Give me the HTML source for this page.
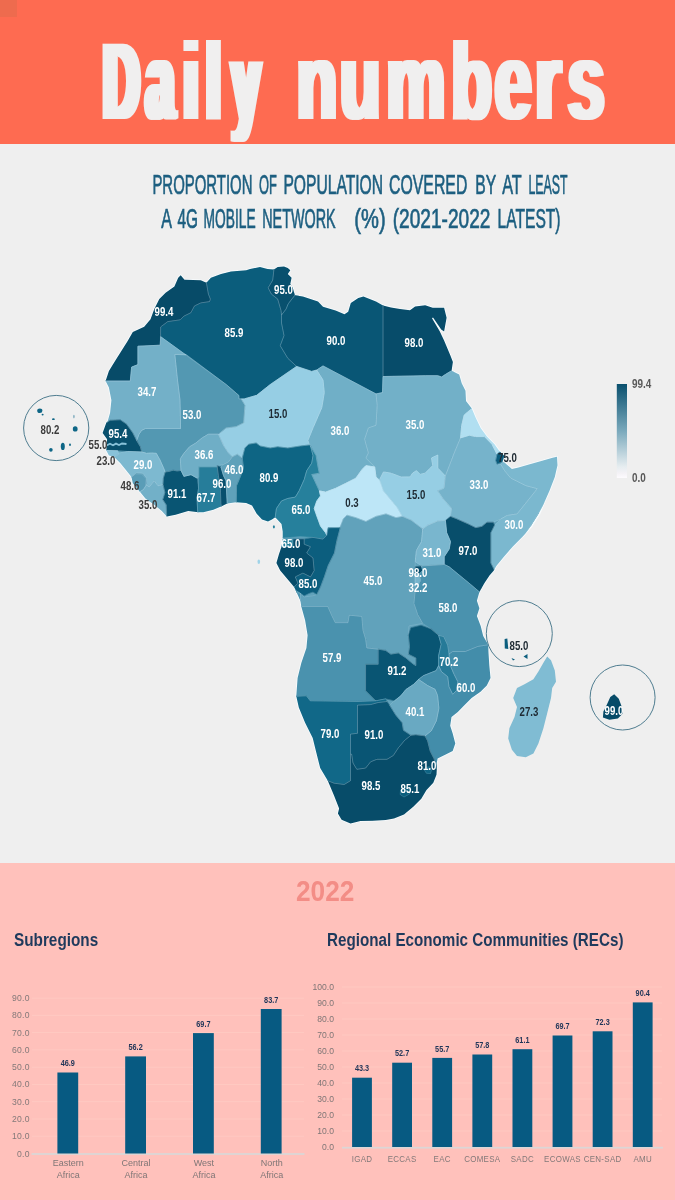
<!DOCTYPE html>
<html lang="en"><head><meta charset="utf-8"><title>Daily numbers</title>
<style>
html,body{margin:0;padding:0}
body{width:675px;height:1200px;position:relative;overflow:hidden;background:#efefef;font-family:"Liberation Sans",sans-serif}
#hdr{position:absolute;left:0;top:0;width:675px;height:144px;background:#fe6b51}
#sq{position:absolute;left:0;top:0;width:17px;height:16.5px;background:#ee6b4e}
#title{position:absolute;left:0;top:0;width:675px;height:144px}
.sub{position:absolute;left:0;width:675px;text-align:center;color:#1d5f80;font-size:26px;line-height:30px;white-space:nowrap}
.sub span{display:inline-block;transform-origin:50% 50%}
#pink{position:absolute;left:0;top:862.5px;width:675px;height:337.5px;background:#ffc1bb}
#y22{position:absolute;left:296px;top:875.5px;color:#f38d86;font-weight:700;font-size:30px;line-height:30px;transform:scaleX(0.875);transform-origin:0 0}
.h2{position:absolute;top:930px;color:#1f3a5c;font-weight:700;font-size:17.6px;line-height:20px;white-space:nowrap;transform-origin:0 0}
</style></head><body>
<div id="hdr"></div><div id="sq"></div>
<svg id="title" viewBox="0 0 675 144"><defs><filter id="dil4" x="-5%" y="-5%" width="110%" height="110%"><feMorphology operator="dilate" radius="4 0"/></filter><filter id="dil2" x="-5%" y="-5%" width="110%" height="110%"><feMorphology operator="dilate" radius="3 0"/></filter></defs><g font-family="'Liberation Sans',sans-serif" font-weight="700" font-size="109" fill="#f0efef"><g filter="url(#dil4)"><text transform="translate(0,119.4) scale(0.4587,1)" x="225.2 318.7 401.3 450.3 505.8">Daily</text></g> <g filter="url(#dil2)"><text transform="translate(0,119.4) scale(0.6055,1)" x="490.0 561.5 638.4 745.5 817.1 884.0 937.8">numbers</text></g></g></svg>
<svg width="675" height="100" viewBox="0 150 675 100" style="position:absolute;left:0;top:150px"><g font-family="'Liberation Sans',sans-serif" font-weight="400" font-size="27.2" fill="#1d5f80" stroke="#1d5f80" stroke-width="0.7"><text y="194.2"><tspan x="152.4" textLength="100.1" lengthAdjust="spacingAndGlyphs">PROPORTION</tspan> <tspan x="259.0" textLength="17.9" lengthAdjust="spacingAndGlyphs">OF</tspan> <tspan x="283.4" textLength="99.6" lengthAdjust="spacingAndGlyphs">POPULATION</tspan> <tspan x="389.1" textLength="78.2" lengthAdjust="spacingAndGlyphs">COVERED</tspan> <tspan x="475.2" textLength="20.6" lengthAdjust="spacingAndGlyphs">BY</tspan> <tspan x="502.2" textLength="19.2" lengthAdjust="spacingAndGlyphs">AT</tspan> <tspan x="528.5" textLength="39.1" lengthAdjust="spacingAndGlyphs">LEAST</tspan></text><text y="227.8"><tspan x="161.2" textLength="9.8" lengthAdjust="spacingAndGlyphs">A</tspan> <tspan x="177.5" textLength="20.5" lengthAdjust="spacingAndGlyphs">4G</tspan> <tspan x="203.6" textLength="52.1" lengthAdjust="spacingAndGlyphs">MOBILE</tspan> <tspan x="262.2" textLength="73.4" lengthAdjust="spacingAndGlyphs">NETWORK</tspan> <tspan x="354.3" textLength="31.3" lengthAdjust="spacingAndGlyphs">(%)</tspan> <tspan x="392.7" textLength="97.7" lengthAdjust="spacingAndGlyphs">(2021-2022</tspan> <tspan x="497.6" textLength="62.9" lengthAdjust="spacingAndGlyphs">LATEST)</tspan></text></g></svg>
<svg width="675" height="720" viewBox="0 144 675 720" style="position:absolute;left:0;top:144px">
<defs><clipPath id="af"><path d="M180.7 275.2 L184.5 279.7 L200.8 280.2 L206.4 282.7 L210.9 277.7 L221.0 273.9 L231.0 271.4 L246.2 270.2 L250.0 268.9 L260.0 267.1 L267.6 268.9 L273.9 269.6 L277.7 267.1 L284.0 266.4 L287.8 268.1 L290.3 270.2 L287.8 273.9 L291.6 277.7 L290.3 284.0 L292.8 287.8 L294.8 295.3 L302.9 296.6 L318.0 301.6 L323.0 306.7 L335.6 310.5 L344.5 314.2 L348.2 311.7 L350.8 302.9 L358.3 297.9 L363.4 296.6 L376.0 301.6 L383.0 305.4 L391.0 307.4 L400.0 309.0 L410.0 310.2 L415.1 306.4 L425.2 305.2 L432.7 307.7 L444.1 307.7 L446.6 317.8 L444.1 331.6 L441.2 329.5 L433.0 317.6 L432.0 318.2 L439.6 331.0 L444.1 340.4 L450.4 355.6 L452.9 361.9 L451.6 370.7 L459.2 374.5 L461.7 383.3 L465.5 390.8 L466.0 400.9 L471.8 408.5 L475.6 417.5 L480.6 428.0 L486.9 436.6 L494.5 444.2 L499.5 451.2 L504.5 456.0 L502.5 461.8 L504.5 462.5 L506.7 464.4 L511.9 468.9 L518.5 467.4 L528.9 464.4 L542.2 460.7 L552.6 457.8 L557.0 456.8 L557.5 465.2 L554.8 477.0 L549.6 490.4 L544.4 502.2 L539.3 514.1 L531.9 525.9 L523.0 536.3 L512.6 546.7 L503.7 557.0 L496.3 565.9 L493.8 570.5 L489.5 575.6 L484.5 583.1 L479.4 591.9 L476.9 600.8 L479.4 608.3 L476.9 615.9 L480.7 625.9 L483.2 636.0 L488.2 644.8 L488.5 652.7 L489.3 665.3 L490.5 677.9 L486.8 685.5 L480.5 691.8 L471.6 698.1 L464.1 705.6 L457.8 711.9 L451.5 717.0 L450.2 725.8 L452.7 733.4 L455.3 743.4 L452.7 751.0 L445.2 754.8 L437.6 758.5 L436.4 764.8 L436.8 769.3 L436.5 774.7 L433.3 782.7 L426.5 790.0 L421.3 798.7 L413.3 806.7 L404.0 814.5 L394.0 818.5 L385.7 820.0 L373.1 820.8 L360.5 821.0 L350.5 823.5 L341.6 819.7 L337.9 813.4 L339.1 808.4 L334.1 795.8 L327.8 780.7 L320.2 768.1 L316.4 753.0 L312.7 737.9 L305.1 722.7 L298.8 707.6 L296.3 696.3 L297.6 678.1 L301.3 663.0 L306.4 647.9 L307.6 635.3 L305.1 620.2 L301.3 606.4 L300.4 600.8 L295.3 589.5 L294.1 587.0 L287.8 579.4 L280.2 570.6 L276.4 563.0 L279.0 554.0 L281.5 546.7 L282.7 539.1 L282.7 531.6 L281.5 524.0 L275.2 517.3 L272.0 519.5 L268.0 521.5 L262.0 519.5 L256.5 513.5 L252.0 505.5 L246.1 502.9 L236.1 502.2 L227.2 503.4 L222.2 506.0 L213.4 509.7 L203.3 512.2 L198.3 512.2 L188.2 511.0 L175.6 514.8 L166.8 516.5 L161.8 511.0 L154.2 504.7 L145.4 498.4 L139.1 490.8 L132.8 483.3 L131.5 477.0 L126.5 470.7 L120.2 463.1 L113.9 456.8 L108.9 455.6 L106.3 450.5 L107.1 439.2 L102.6 432.9 L106.3 422.8 L107.6 421.6 L110.1 412.7 L111.4 400.2 L108.9 387.6 L105.6 381.0 L108.9 370.9 L115.2 360.8 L121.5 350.8 L127.8 340.7 L132.8 331.9 L144.2 326.8 L150.5 319.3 L154.2 309.2 L159.3 299.1 L165.6 292.8 L174.4 286.5 L178.2 277.7Z"/></clipPath><linearGradient id="lg" x1="0" y1="0" x2="0" y2="1"><stop offset="0" stop-color="#0a506e"/><stop offset="0.5" stop-color="#7aa9bc"/><stop offset="0.88" stop-color="#e6edf0"/><stop offset="0.95" stop-color="#f4f2f6"/><stop offset="1" stop-color="#fdfbfe"/></linearGradient></defs>
<path d="M180.7 275.2 L184.5 279.7 L200.8 280.2 L206.4 282.7 L210.9 277.7 L221.0 273.9 L231.0 271.4 L246.2 270.2 L250.0 268.9 L260.0 267.1 L267.6 268.9 L273.9 269.6 L277.7 267.1 L284.0 266.4 L287.8 268.1 L290.3 270.2 L287.8 273.9 L291.6 277.7 L290.3 284.0 L292.8 287.8 L294.8 295.3 L302.9 296.6 L318.0 301.6 L323.0 306.7 L335.6 310.5 L344.5 314.2 L348.2 311.7 L350.8 302.9 L358.3 297.9 L363.4 296.6 L376.0 301.6 L383.0 305.4 L391.0 307.4 L400.0 309.0 L410.0 310.2 L415.1 306.4 L425.2 305.2 L432.7 307.7 L444.1 307.7 L446.6 317.8 L444.1 331.6 L441.2 329.5 L433.0 317.6 L432.0 318.2 L439.6 331.0 L444.1 340.4 L450.4 355.6 L452.9 361.9 L451.6 370.7 L459.2 374.5 L461.7 383.3 L465.5 390.8 L466.0 400.9 L471.8 408.5 L475.6 417.5 L480.6 428.0 L486.9 436.6 L494.5 444.2 L499.5 451.2 L504.5 456.0 L502.5 461.8 L504.5 462.5 L506.7 464.4 L511.9 468.9 L518.5 467.4 L528.9 464.4 L542.2 460.7 L552.6 457.8 L557.0 456.8 L557.5 465.2 L554.8 477.0 L549.6 490.4 L544.4 502.2 L539.3 514.1 L531.9 525.9 L523.0 536.3 L512.6 546.7 L503.7 557.0 L496.3 565.9 L493.8 570.5 L489.5 575.6 L484.5 583.1 L479.4 591.9 L476.9 600.8 L479.4 608.3 L476.9 615.9 L480.7 625.9 L483.2 636.0 L488.2 644.8 L488.5 652.7 L489.3 665.3 L490.5 677.9 L486.8 685.5 L480.5 691.8 L471.6 698.1 L464.1 705.6 L457.8 711.9 L451.5 717.0 L450.2 725.8 L452.7 733.4 L455.3 743.4 L452.7 751.0 L445.2 754.8 L437.6 758.5 L436.4 764.8 L436.8 769.3 L436.5 774.7 L433.3 782.7 L426.5 790.0 L421.3 798.7 L413.3 806.7 L404.0 814.5 L394.0 818.5 L385.7 820.0 L373.1 820.8 L360.5 821.0 L350.5 823.5 L341.6 819.7 L337.9 813.4 L339.1 808.4 L334.1 795.8 L327.8 780.7 L320.2 768.1 L316.4 753.0 L312.7 737.9 L305.1 722.7 L298.8 707.6 L296.3 696.3 L297.6 678.1 L301.3 663.0 L306.4 647.9 L307.6 635.3 L305.1 620.2 L301.3 606.4 L300.4 600.8 L295.3 589.5 L294.1 587.0 L287.8 579.4 L280.2 570.6 L276.4 563.0 L279.0 554.0 L281.5 546.7 L282.7 539.1 L282.7 531.6 L281.5 524.0 L275.2 517.3 L272.0 519.5 L268.0 521.5 L262.0 519.5 L256.5 513.5 L252.0 505.5 L246.1 502.9 L236.1 502.2 L227.2 503.4 L222.2 506.0 L213.4 509.7 L203.3 512.2 L198.3 512.2 L188.2 511.0 L175.6 514.8 L166.8 516.5 L161.8 511.0 L154.2 504.7 L145.4 498.4 L139.1 490.8 L132.8 483.3 L131.5 477.0 L126.5 470.7 L120.2 463.1 L113.9 456.8 L108.9 455.6 L106.3 450.5 L107.1 439.2 L102.6 432.9 L106.3 422.8 L107.6 421.6 L110.1 412.7 L111.4 400.2 L108.9 387.6 L105.6 381.0 L108.9 370.9 L115.2 360.8 L121.5 350.8 L127.8 340.7 L132.8 331.9 L144.2 326.8 L150.5 319.3 L154.2 309.2 L159.3 299.1 L165.6 292.8 L174.4 286.5 L178.2 277.7Z" fill="#61a2bb" stroke="#f8fcfe" stroke-width="1.6" stroke-linejoin="round"/>
<g clip-path="url(#af)" stroke-linejoin="round">
<path d="M206.4 282.7 L206.0 255.0 L274.0 255.0 L273.9 269.6 L272.7 280.2 L268.1 287.8 L271.4 294.1 L277.7 299.1 L281.0 310.5 L281.5 315.0 L281.5 323.0 L284.0 335.6 L280.2 345.7 L287.8 358.3 L296.6 366.4 L270.0 384.7 L256.7 395.3 L244.2 398.9 L238.9 398.9 L238.9 395.5 L236.0 393.0 L226.4 384.7 L160.7 336.7 L160.7 326.9 L167.8 321.6 L180.2 319.8 L183.8 316.2 L190.9 312.7 L194.5 305.9 L200.8 302.9 L209.6 301.6 L210.4 299.1 L208.4 294.1Z" fill="#0b5d7c" stroke="#0b5d7c" stroke-width="0.7"/>
<path d="M206.4 282.7 L208.4 294.1 L210.4 299.1 L209.6 301.6 L200.8 302.9 L194.5 305.9 L190.9 312.7 L183.8 316.2 L180.2 319.8 L167.8 321.6 L160.7 326.9 L160.2 345.2 L137.9 346.2 L137.9 364.6 L131.6 367.1 L130.3 381.0 L95.0 381.0 L95.0 265.0 L206.0 265.0Z" fill="#074b68" stroke="#074b68" stroke-width="0.7"/>
<path d="M273.9 269.6 L274.0 258.0 L300.0 258.0 L300.0 295.3 L294.8 295.3 L288.2 303.8 L286.1 309.0 L281.5 315.0 L281.0 310.5 L277.7 299.1 L271.4 294.1 L268.1 287.8 L272.7 280.2Z" fill="#08506e" stroke="#08506e" stroke-width="0.7"/>
<path d="M294.8 295.3 L294.8 285.0 L383.0 285.0 L383.0 376.5 L382.5 392.6 L376.0 393.9 L323.0 365.9 L316.7 370.0 L311.7 371.4 L296.6 366.4 L287.8 358.3 L280.2 345.7 L284.0 335.6 L281.5 323.0 L281.5 315.0 L286.1 309.0 L288.2 303.8Z" fill="#095675" stroke="#095675" stroke-width="0.7"/>
<path d="M383.0 295.0 L460.0 295.0 L460.0 370.7 L451.6 370.7 L445.3 374.5 L441.6 377.0 L437.8 375.7 L425.2 375.7 L400.0 376.2 L383.0 376.5Z" fill="#074c6a" stroke="#074c6a" stroke-width="0.7"/>
<path d="M383.0 376.5 L400.0 376.2 L425.2 375.7 L437.8 375.7 L441.6 377.0 L445.3 374.5 L451.6 370.7 L475.0 372.0 L475.0 408.5 L471.8 408.5 L464.2 415.0 L461.7 425.3 L460.5 437.9 L454.2 453.0 L450.4 463.0 L445.3 476.0 L437.8 468.1 L437.8 463.0 L437.8 455.0 L431.5 458.0 L432.7 465.6 L430.2 468.1 L425.2 473.1 L420.2 474.4 L416.4 470.6 L412.6 473.1 L410.1 476.9 L401.1 477.0 L391.1 473.2 L383.5 471.9 L379.7 479.5 L376.0 477.0 L374.7 466.9 L365.9 458.1 L368.4 453.0 L364.6 439.2 L368.4 427.9 L376.0 425.3 L377.2 405.2 L376.0 393.9 L382.5 392.6Z" fill="#72b0c8" stroke="#72b0c8" stroke-width="0.7"/>
<path d="M323.0 365.9 L376.0 393.9 L377.2 405.2 L376.0 425.3 L368.4 427.9 L364.6 439.2 L368.4 453.0 L365.9 458.1 L374.7 466.9 L365.9 465.6 L362.1 469.4 L355.8 478.2 L345.7 483.3 L335.6 488.3 L325.6 492.1 L319.3 490.8 L311.7 474.5 L319.3 473.2 L318.0 467.0 L316.0 455.6 L310.5 446.0 L307.9 440.5 L313.0 427.9 L321.8 407.7 L324.3 392.6 L323.0 380.0 L316.7 370.0Z" fill="#70afc7" stroke="#70afc7" stroke-width="0.7"/>
<path d="M296.6 366.4 L311.7 371.4 L316.7 370.0 L323.0 380.0 L324.3 392.6 L321.8 407.7 L313.0 427.9 L307.9 440.5 L309.2 445.0 L300.4 446.0 L287.8 448.0 L277.7 446.8 L270.2 448.0 L260.1 446.0 L256.2 443.0 L248.7 444.2 L244.9 448.0 L242.3 458.1 L237.3 454.3 L232.3 456.8 L228.5 453.0 L223.5 445.5 L218.4 434.2 L226.0 427.9 L236.1 426.6 L243.6 422.8 L244.9 405.2 L241.1 398.9 L244.2 398.9 L256.7 395.3 L270.0 384.7Z" fill="#96cee4" stroke="#96cee4" stroke-width="0.7"/>
<path d="M174.8 354.4 L185.9 354.4 L226.4 384.7 L236.0 393.0 L238.9 395.5 L238.9 398.9 L241.1 398.9 L244.9 405.2 L243.6 422.8 L236.1 426.6 L226.0 427.9 L218.4 434.2 L208.3 434.2 L202.1 437.9 L195.8 443.0 L189.5 446.8 L183.9 453.3 L180.3 458.7 L181.0 470.5 L177.0 471.0 L173.2 470.2 L169.0 471.5 L165.2 472.0 L163.4 467.6 L160.0 460.0 L156.3 453.3 L151.7 453.0 L146.6 453.3 L141.6 451.8 L140.3 446.8 L136.6 440.5 L139.1 434.2 L141.6 430.4 L145.4 428.6 L180.6 428.6 L180.0 400.0 L177.5 380.0Z" fill="#5398b2" stroke="#5398b2" stroke-width="0.7"/>
<path d="M160.7 336.7 L185.9 354.9 L174.8 354.4 L177.5 380.0 L180.0 400.0 L180.6 428.6 L145.4 428.6 L141.6 430.4 L139.1 434.2 L136.6 440.5 L132.8 432.9 L126.5 424.1 L120.2 419.8 L110.1 420.3 L106.3 422.8 L95.0 422.0 L95.0 381.0 L130.3 381.0 L131.6 367.1 L137.9 364.6 L137.9 346.2 L160.2 345.2Z" fill="#73b0c8" stroke="#73b0c8" stroke-width="0.7"/>
<path d="M100.0 422.8 L106.3 422.8 L110.1 420.3 L120.2 419.8 L126.5 424.1 L132.8 432.9 L136.6 440.5 L140.3 446.8 L141.6 451.8 L127.7 451.3 L117.7 450.5 L100.0 450.0Z" fill="#08506d" stroke="#08506d" stroke-width="0.7"/>
<path d="M100.0 450.3 L117.7 450.8 L118.9 454.3 L113.9 457.5 L100.0 458.0Z" fill="#88c2d9" stroke="#88c2d9" stroke-width="0.7"/>
<path d="M118.9 453.0 L127.7 451.5 L141.6 452.0 L146.6 453.3 L151.7 453.0 L156.3 453.3 L160.0 460.0 L163.4 467.6 L165.2 472.0 L163.4 478.2 L163.0 484.5 L158.0 485.8 L154.2 480.8 L149.2 487.0 L145.4 484.5 L146.6 478.2 L142.9 473.2 L136.6 472.7 L131.5 477.0 L120.0 475.0 L105.0 457.0 L113.9 456.8Z" fill="#7db9d0" stroke="#7db9d0" stroke-width="0.7"/>
<path d="M131.5 477.0 L135.5 474.0 L141.5 474.0 L146.0 478.5 L146.6 484.5 L143.5 489.5 L139.5 492.0 L128.0 493.0 L125.0 477.0Z" fill="#5a9db7" stroke="#5a9db7" stroke-width="0.7"/>
<path d="M139.5 492.0 L143.5 489.5 L146.6 484.5 L149.2 487.0 L154.2 480.8 L158.0 485.8 L163.0 484.5 L165.0 492.4 L162.8 499.6 L166.3 505.0 L166.8 516.5 L160.0 522.0 L135.0 495.0Z" fill="#72b0c8" stroke="#72b0c8" stroke-width="0.7"/>
<path d="M165.2 472.0 L169.0 471.5 L173.2 470.2 L177.0 471.0 L181.0 470.5 L183.9 476.4 L191.0 474.7 L197.2 478.2 L198.5 488.3 L197.0 498.4 L197.5 508.5 L198.3 520.0 L166.8 522.0 L166.3 505.0 L162.8 499.6 L165.0 492.4 L163.0 484.5 L163.4 478.2Z" fill="#095573" stroke="#095573" stroke-width="0.7"/>
<path d="M218.4 434.2 L223.5 445.5 L228.5 453.0 L232.3 456.8 L228.5 461.9 L223.5 464.4 L217.2 465.6 L217.2 466.9 L198.8 466.9 L198.8 477.0 L197.2 478.2 L191.0 474.7 L183.9 476.4 L181.0 470.5 L180.3 458.7 L183.9 453.3 L189.5 446.8 L195.8 443.0 L202.1 437.9 L208.3 434.2Z" fill="#6faec6" stroke="#6faec6" stroke-width="0.7"/>
<path d="M198.8 466.9 L217.2 466.9 L218.4 475.7 L220.4 488.3 L220.9 503.4 L222.2 515.0 L198.3 518.0 L197.5 508.5 L197.0 498.4 L198.5 488.3 L198.8 477.0Z" fill="#267d9a" stroke="#267d9a" stroke-width="0.7"/>
<path d="M217.2 465.6 L220.9 466.9 L223.5 475.7 L226.0 480.8 L227.2 503.4 L227.2 512.0 L222.2 512.0 L220.9 503.4 L220.4 488.3 L218.4 475.7Z" fill="#084f6d" stroke="#084f6d" stroke-width="0.7"/>
<path d="M227.2 503.4 L226.0 480.8 L223.5 475.7 L220.9 466.9 L223.5 464.4 L228.5 461.9 L232.3 456.8 L237.3 454.3 L242.3 458.1 L243.6 468.2 L239.8 478.2 L236.6 485.8 L236.1 510.0 L227.2 510.0Z" fill="#5fa1ba" stroke="#5fa1ba" stroke-width="0.7"/>
<path d="M242.3 458.1 L244.9 448.0 L248.7 444.2 L256.2 443.0 L260.1 446.0 L270.2 448.0 L277.7 446.8 L287.8 448.0 L300.4 446.0 L309.2 445.0 L310.5 446.0 L313.0 455.6 L311.7 463.1 L306.7 470.7 L304.2 479.5 L299.1 490.8 L295.3 497.1 L287.8 498.4 L281.5 500.9 L276.4 508.5 L275.2 517.3 L275.0 530.0 L236.1 530.0 L236.6 485.8 L239.8 478.2 L243.6 468.2Z" fill="#0e6584" stroke="#0e6584" stroke-width="0.7"/>
<path d="M310.5 446.0 L316.0 455.6 L318.0 467.0 L319.3 473.2 L311.7 474.5 L319.3 490.8 L320.5 495.9 L316.8 500.9 L314.2 508.5 L316.8 516.0 L320.5 526.1 L325.6 532.8 L326.8 535.3 L323.0 539.1 L313.0 537.4 L300.4 536.6 L282.7 538.0 L270.0 538.0 L275.2 517.3 L276.4 508.5 L281.5 500.9 L287.8 498.4 L295.3 497.1 L299.1 490.8 L304.2 479.5 L306.7 470.7 L311.7 463.1 L313.0 455.6Z" fill="#26809c" stroke="#26809c" stroke-width="0.7"/>
<path d="M319.3 490.8 L325.6 492.1 L335.6 488.3 L345.7 483.3 L355.8 478.2 L362.1 469.4 L365.9 465.6 L374.7 466.9 L376.0 477.0 L379.7 480.5 L383.5 490.8 L391.1 500.0 L397.4 507.6 L402.4 516.4 L396.1 517.7 L386.0 513.9 L376.0 516.4 L365.9 521.5 L355.8 517.7 L347.0 515.2 L343.2 519.0 L339.4 527.3 L328.1 527.8 L326.8 535.3 L325.6 532.8 L320.5 526.1 L316.8 516.0 L314.2 508.5 L316.8 500.9 L320.5 495.9Z" fill="#bde6f7" stroke="#bde6f7" stroke-width="0.7"/>
<path d="M379.7 479.5 L383.5 471.9 L391.1 473.2 L401.1 477.0 L410.1 476.9 L412.6 473.1 L416.4 470.6 L420.2 474.4 L425.2 473.1 L430.2 468.1 L432.7 465.6 L431.5 458.0 L437.8 455.0 L437.8 463.0 L437.8 468.1 L445.3 476.0 L444.1 488.2 L437.8 490.8 L442.8 498.3 L451.6 508.4 L450.4 515.9 L445.4 520.5 L437.8 521.0 L427.8 525.2 L422.7 529.0 L417.7 525.2 L411.2 520.2 L402.4 516.4 L397.4 507.6 L391.1 500.0 L383.5 490.8Z" fill="#96cee4" stroke="#96cee4" stroke-width="0.7"/>
<path d="M460.5 437.9 L469.3 435.3 L475.6 436.6 L484.4 436.6 L491.9 444.2 L497.0 454.2 L495.7 460.5 L497.0 464.3 L500.8 464.3 L504.5 470.6 L510.8 478.2 L525.9 485.7 L537.3 488.7 L517.1 513.9 L507.1 515.4 L500.8 519.0 L493.3 522.2 L487.0 522.2 L481.9 526.4 L475.7 527.7 L468.1 523.9 L456.8 518.9 L450.5 516.4 L451.6 508.4 L442.8 498.3 L437.8 490.8 L444.1 488.2 L445.3 476.0 L450.4 463.0 L454.2 453.0Z" fill="#76b3cb" stroke="#76b3cb" stroke-width="0.7"/>
<path d="M471.8 408.5 L480.0 405.0 L505.0 450.0 L499.5 451.7 L497.0 454.2 L491.9 444.2 L484.4 436.6 L475.6 436.6 L469.3 435.3 L460.5 437.9 L461.7 425.3 L464.2 415.0Z" fill="#b1dff1" stroke="#b1dff1" stroke-width="0.7"/>
<path d="M500.8 464.3 L502.5 461.8 L504.5 461.0 L560.0 450.0 L565.0 470.0 L500.0 575.0 L494.5 570.5 L490.8 563.0 L490.8 532.7 L494.5 525.2 L500.8 519.0 L507.1 515.4 L517.1 513.9 L537.3 488.7 L525.9 485.7 L510.8 478.2 L504.5 470.6Z" fill="#7bb8cf" stroke="#7bb8cf" stroke-width="0.7"/>
<path d="M497.0 454.2 L500.8 451.2 L504.5 456.0 L502.5 461.8 L497.0 464.3 L495.7 460.5Z" fill="#0b5c7c" stroke="#0b5c7c" stroke-width="0.7"/>
<path d="M445.4 520.5 L450.5 516.4 L456.8 518.9 L468.1 523.9 L475.7 527.7 L481.9 526.4 L487.0 522.2 L493.3 522.2 L494.5 525.2 L490.8 532.7 L490.8 563.0 L494.5 570.5 L489.0 580.0 L479.4 591.9 L470.6 584.4 L449.2 566.8 L444.2 564.2 L444.2 556.7 L449.2 549.1 L450.5 541.6 L446.7 532.7Z" fill="#084e6b" stroke="#084e6b" stroke-width="0.7"/>
<path d="M340.2 527.8 L343.2 519.0 L347.0 515.2 L355.8 517.7 L365.9 521.5 L376.0 516.4 L386.0 513.9 L396.1 517.7 L402.4 516.4 L411.2 520.2 L417.7 525.2 L422.7 529.0 L421.5 541.6 L416.4 550.4 L415.2 561.7 L415.2 590.7 L413.9 603.3 L417.7 614.6 L422.7 623.4 L408.9 625.9 L408.4 635.3 L409.6 646.7 L408.4 654.2 L415.9 658.0 L415.9 665.6 L413.4 664.3 L405.9 658.0 L398.3 653.0 L390.8 654.2 L385.7 650.5 L378.2 649.2 L366.8 647.9 L365.6 639.1 L363.0 630.3 L361.8 616.4 L349.2 615.2 L347.9 622.7 L335.3 622.7 L331.6 615.2 L327.8 606.4 L301.3 606.4 L295.0 606.4 L295.0 600.8 L300.4 600.8 L300.4 593.3 L304.2 597.0 L313.0 595.8 L316.8 594.5 L320.5 587.0 L324.3 576.9 L328.1 565.6 L334.4 553.0 L336.9 540.4Z" fill="#61a2bb" stroke="#61a2bb" stroke-width="0.7"/>
<path d="M422.7 529.0 L427.8 525.2 L437.8 521.0 L445.4 520.5 L446.7 532.7 L450.5 541.6 L449.2 549.1 L444.2 556.7 L444.2 564.5 L421.5 566.0 L420.2 565.0 L415.2 561.7 L416.4 550.4 L421.5 541.6Z" fill="#79b6ce" stroke="#79b6ce" stroke-width="0.7"/>
<path d="M415.2 566.8 L421.5 566.0 L422.7 570.5 L419.0 574.3 L415.2 573.0Z" fill="#074c6a" stroke="#074c6a" stroke-width="0.7"/>
<path d="M415.2 574.3 L419.0 574.3 L420.7 580.6 L417.7 585.6 L415.2 583.1Z" fill="#77b4cc" stroke="#77b4cc" stroke-width="0.7"/>
<path d="M421.5 566.0 L444.2 564.5 L449.2 566.8 L470.6 584.4 L479.4 591.9 L495.0 592.0 L495.0 644.8 L488.2 644.8 L477.9 646.4 L465.3 651.5 L452.7 651.5 L449.0 654.0 L447.7 645.2 L443.7 636.6 L438.6 635.3 L431.1 629.0 L422.7 623.4 L417.7 614.6 L413.9 603.3 L415.2 590.7 L417.7 585.6 L420.7 580.6 L419.0 574.3 L422.7 570.5Z" fill="#4a92ae" stroke="#4a92ae" stroke-width="0.7"/>
<path d="M304.2 539.1 L313.0 537.4 L323.0 539.1 L326.8 535.3 L328.1 527.8 L340.2 527.8 L336.9 540.4 L334.4 553.0 L328.1 565.6 L324.3 576.9 L320.5 587.0 L316.8 594.5 L313.0 592.0 L309.2 593.3 L304.2 595.8 L300.4 593.3 L292.0 592.0 L294.1 587.0 L297.9 583.2 L295.3 576.9 L302.9 573.1 L310.5 576.9 L314.2 570.6 L313.0 558.0 L306.7 553.0 L310.5 546.7 L304.2 544.2Z" fill="#0c5e7e" stroke="#0c5e7e" stroke-width="0.7"/>
<path d="M281.5 546.7 L292.8 546.7 L292.8 539.1 L304.2 539.1 L304.2 544.2 L310.5 546.7 L306.7 553.0 L313.0 558.0 L314.2 570.6 L310.5 576.9 L302.9 573.1 L295.3 576.9 L297.9 583.2 L294.1 587.0 L285.0 590.0 L270.0 565.0Z" fill="#074c6a" stroke="#074c6a" stroke-width="0.7"/>
<path d="M278.0 539.1 L292.8 539.1 L292.8 546.7 L278.0 546.7Z" fill="#26809c" stroke="#26809c" stroke-width="0.7"/>
<path d="M295.0 606.4 L327.8 606.4 L331.6 615.2 L335.3 622.7 L347.9 622.7 L349.2 615.2 L361.8 616.4 L363.0 630.3 L365.6 639.1 L366.8 647.9 L378.2 649.2 L378.2 664.3 L365.6 664.3 L365.6 690.8 L375.6 700.8 L358.0 701.5 L310.2 700.8 L306.4 695.8 L296.3 696.3 L290.0 696.0 L290.0 606.0Z" fill="#4a92ae" stroke="#4a92ae" stroke-width="0.7"/>
<path d="M294.0 589.5 L300.4 593.3 L300.4 600.8 L294.0 600.8Z" fill="#4a92ae" stroke="#4a92ae" stroke-width="0.7"/>
<path d="M365.6 664.3 L378.2 664.3 L378.2 649.2 L385.7 650.5 L390.8 654.2 L398.3 653.0 L405.9 658.0 L413.4 664.3 L415.9 665.6 L415.9 658.0 L408.4 654.2 L409.6 646.7 L408.4 635.3 L410.9 627.8 L421.0 625.3 L431.1 629.0 L438.6 635.3 L441.1 644.2 L438.6 655.5 L438.6 665.6 L436.1 670.6 L423.5 675.6 L418.5 679.4 L413.4 684.5 L405.9 689.5 L400.8 695.8 L394.5 700.8 L385.7 698.8 L375.6 700.8 L365.6 690.8Z" fill="#095573" stroke="#095573" stroke-width="0.7"/>
<path d="M438.6 635.3 L443.7 636.6 L447.7 645.2 L449.0 654.0 L450.2 665.3 L454.0 674.2 L457.8 681.7 L456.5 690.5 L452.7 694.3 L449.0 686.8 L447.7 676.7 L441.4 671.6 L438.6 665.6 L438.6 655.5 L441.1 644.2Z" fill="#267a98" stroke="#267a98" stroke-width="0.7"/>
<path d="M449.0 654.0 L452.7 651.5 L465.3 651.5 L477.9 646.4 L488.2 644.8 L500.0 644.0 L500.0 700.0 L460.0 770.0 L436.4 768.0 L433.9 758.5 L430.1 751.0 L427.6 740.9 L425.0 735.9 L431.3 730.8 L436.4 720.8 L438.9 708.2 L437.6 695.6 L435.1 689.3 L427.6 685.5 L418.5 679.4 L423.5 675.6 L436.1 670.6 L438.6 665.6 L441.4 671.6 L447.7 676.7 L449.0 686.8 L452.7 694.3 L456.5 690.5 L457.8 681.7 L454.0 674.2 L450.2 665.3Z" fill="#438daa" stroke="#438daa" stroke-width="0.7"/>
<path d="M394.5 700.8 L400.8 695.8 L405.9 689.5 L413.4 684.5 L418.5 679.4 L427.6 685.5 L435.1 689.3 L437.6 695.6 L438.9 708.2 L436.4 720.8 L431.3 730.8 L425.0 735.9 L415.9 734.8 L410.9 735.3 L403.4 730.3 L402.1 722.7 L395.8 715.2 L389.5 705.1Z" fill="#69a9c2" stroke="#69a9c2" stroke-width="0.7"/>
<path d="M290.0 696.0 L296.3 696.3 L306.4 695.8 L310.2 700.8 L358.0 701.5 L375.6 700.8 L385.7 698.8 L387.0 701.5 L378.2 702.5 L370.6 704.6 L357.5 705.1 L357.5 733.3 L350.5 734.1 L350.5 780.7 L344.2 784.5 L334.1 783.2 L327.8 780.7 L300.0 780.0Z" fill="#116888" stroke="#116888" stroke-width="0.7"/>
<path d="M357.5 705.1 L370.6 704.6 L378.2 702.5 L387.0 701.5 L389.5 705.1 L395.8 715.2 L402.1 722.7 L403.4 730.3 L410.9 735.3 L404.6 740.4 L398.3 747.9 L393.3 755.5 L387.0 759.3 L376.9 759.3 L370.6 761.8 L365.6 768.1 L356.8 769.3 L353.0 763.0 L351.7 754.2 L350.5 754.2 L350.5 734.1 L357.5 733.3Z" fill="#095574" stroke="#095574" stroke-width="0.7"/>
<path d="M327.8 780.7 L334.1 783.2 L344.2 784.5 L350.5 780.7 L350.5 754.2 L351.7 754.2 L353.0 763.0 L356.8 769.3 L365.6 768.1 L370.6 761.8 L376.9 759.3 L387.0 759.3 L393.3 755.5 L398.3 747.9 L404.6 740.4 L410.9 735.3 L415.9 734.8 L425.0 735.9 L427.6 740.9 L430.1 751.0 L433.9 758.5 L436.4 764.8 L445.0 768.0 L445.0 830.0 L320.0 830.0Z" fill="#074c69" stroke="#074c69" stroke-width="0.7"/>
<path d="M425.5 767.5 L429.5 766.8 L431.5 770.0 L430.5 773.5 L426.5 773.3 L424.7 770.5Z" fill="#0e6484" stroke="#0e6484" stroke-width="0.7"/>
<path d="M400.5 790.5 L405.0 787.5 L410.0 790.0 L409.5 794.0 L404.0 797.0 L400.2 794.5Z" fill="#0b5e7d" stroke="#0b5e7d" stroke-width="0.7"/>
</g>
<g clip-path="url(#af)" fill="none" stroke="#cfe8f2" stroke-opacity="0.35" stroke-width="0.5" stroke-linejoin="round">
<path d="M206.4 282.7 L206.0 255.0 L274.0 255.0 L273.9 269.6 L272.7 280.2 L268.1 287.8 L271.4 294.1 L277.7 299.1 L281.0 310.5 L281.5 315.0 L281.5 323.0 L284.0 335.6 L280.2 345.7 L287.8 358.3 L296.6 366.4 L270.0 384.7 L256.7 395.3 L244.2 398.9 L238.9 398.9 L238.9 395.5 L236.0 393.0 L226.4 384.7 L160.7 336.7 L160.7 326.9 L167.8 321.6 L180.2 319.8 L183.8 316.2 L190.9 312.7 L194.5 305.9 L200.8 302.9 L209.6 301.6 L210.4 299.1 L208.4 294.1Z"/>
<path d="M206.4 282.7 L208.4 294.1 L210.4 299.1 L209.6 301.6 L200.8 302.9 L194.5 305.9 L190.9 312.7 L183.8 316.2 L180.2 319.8 L167.8 321.6 L160.7 326.9 L160.2 345.2 L137.9 346.2 L137.9 364.6 L131.6 367.1 L130.3 381.0 L95.0 381.0 L95.0 265.0 L206.0 265.0Z"/>
<path d="M273.9 269.6 L274.0 258.0 L300.0 258.0 L300.0 295.3 L294.8 295.3 L288.2 303.8 L286.1 309.0 L281.5 315.0 L281.0 310.5 L277.7 299.1 L271.4 294.1 L268.1 287.8 L272.7 280.2Z"/>
<path d="M294.8 295.3 L294.8 285.0 L383.0 285.0 L383.0 376.5 L382.5 392.6 L376.0 393.9 L323.0 365.9 L316.7 370.0 L311.7 371.4 L296.6 366.4 L287.8 358.3 L280.2 345.7 L284.0 335.6 L281.5 323.0 L281.5 315.0 L286.1 309.0 L288.2 303.8Z"/>
<path d="M383.0 295.0 L460.0 295.0 L460.0 370.7 L451.6 370.7 L445.3 374.5 L441.6 377.0 L437.8 375.7 L425.2 375.7 L400.0 376.2 L383.0 376.5Z"/>
<path d="M383.0 376.5 L400.0 376.2 L425.2 375.7 L437.8 375.7 L441.6 377.0 L445.3 374.5 L451.6 370.7 L475.0 372.0 L475.0 408.5 L471.8 408.5 L464.2 415.0 L461.7 425.3 L460.5 437.9 L454.2 453.0 L450.4 463.0 L445.3 476.0 L437.8 468.1 L437.8 463.0 L437.8 455.0 L431.5 458.0 L432.7 465.6 L430.2 468.1 L425.2 473.1 L420.2 474.4 L416.4 470.6 L412.6 473.1 L410.1 476.9 L401.1 477.0 L391.1 473.2 L383.5 471.9 L379.7 479.5 L376.0 477.0 L374.7 466.9 L365.9 458.1 L368.4 453.0 L364.6 439.2 L368.4 427.9 L376.0 425.3 L377.2 405.2 L376.0 393.9 L382.5 392.6Z"/>
<path d="M323.0 365.9 L376.0 393.9 L377.2 405.2 L376.0 425.3 L368.4 427.9 L364.6 439.2 L368.4 453.0 L365.9 458.1 L374.7 466.9 L365.9 465.6 L362.1 469.4 L355.8 478.2 L345.7 483.3 L335.6 488.3 L325.6 492.1 L319.3 490.8 L311.7 474.5 L319.3 473.2 L318.0 467.0 L316.0 455.6 L310.5 446.0 L307.9 440.5 L313.0 427.9 L321.8 407.7 L324.3 392.6 L323.0 380.0 L316.7 370.0Z"/>
<path d="M296.6 366.4 L311.7 371.4 L316.7 370.0 L323.0 380.0 L324.3 392.6 L321.8 407.7 L313.0 427.9 L307.9 440.5 L309.2 445.0 L300.4 446.0 L287.8 448.0 L277.7 446.8 L270.2 448.0 L260.1 446.0 L256.2 443.0 L248.7 444.2 L244.9 448.0 L242.3 458.1 L237.3 454.3 L232.3 456.8 L228.5 453.0 L223.5 445.5 L218.4 434.2 L226.0 427.9 L236.1 426.6 L243.6 422.8 L244.9 405.2 L241.1 398.9 L244.2 398.9 L256.7 395.3 L270.0 384.7Z"/>
<path d="M174.8 354.4 L185.9 354.4 L226.4 384.7 L236.0 393.0 L238.9 395.5 L238.9 398.9 L241.1 398.9 L244.9 405.2 L243.6 422.8 L236.1 426.6 L226.0 427.9 L218.4 434.2 L208.3 434.2 L202.1 437.9 L195.8 443.0 L189.5 446.8 L183.9 453.3 L180.3 458.7 L181.0 470.5 L177.0 471.0 L173.2 470.2 L169.0 471.5 L165.2 472.0 L163.4 467.6 L160.0 460.0 L156.3 453.3 L151.7 453.0 L146.6 453.3 L141.6 451.8 L140.3 446.8 L136.6 440.5 L139.1 434.2 L141.6 430.4 L145.4 428.6 L180.6 428.6 L180.0 400.0 L177.5 380.0Z"/>
<path d="M160.7 336.7 L185.9 354.9 L174.8 354.4 L177.5 380.0 L180.0 400.0 L180.6 428.6 L145.4 428.6 L141.6 430.4 L139.1 434.2 L136.6 440.5 L132.8 432.9 L126.5 424.1 L120.2 419.8 L110.1 420.3 L106.3 422.8 L95.0 422.0 L95.0 381.0 L130.3 381.0 L131.6 367.1 L137.9 364.6 L137.9 346.2 L160.2 345.2Z"/>
<path d="M100.0 422.8 L106.3 422.8 L110.1 420.3 L120.2 419.8 L126.5 424.1 L132.8 432.9 L136.6 440.5 L140.3 446.8 L141.6 451.8 L127.7 451.3 L117.7 450.5 L100.0 450.0Z"/>
<path d="M100.0 450.3 L117.7 450.8 L118.9 454.3 L113.9 457.5 L100.0 458.0Z"/>
<path d="M118.9 453.0 L127.7 451.5 L141.6 452.0 L146.6 453.3 L151.7 453.0 L156.3 453.3 L160.0 460.0 L163.4 467.6 L165.2 472.0 L163.4 478.2 L163.0 484.5 L158.0 485.8 L154.2 480.8 L149.2 487.0 L145.4 484.5 L146.6 478.2 L142.9 473.2 L136.6 472.7 L131.5 477.0 L120.0 475.0 L105.0 457.0 L113.9 456.8Z"/>
<path d="M131.5 477.0 L135.5 474.0 L141.5 474.0 L146.0 478.5 L146.6 484.5 L143.5 489.5 L139.5 492.0 L128.0 493.0 L125.0 477.0Z"/>
<path d="M139.5 492.0 L143.5 489.5 L146.6 484.5 L149.2 487.0 L154.2 480.8 L158.0 485.8 L163.0 484.5 L165.0 492.4 L162.8 499.6 L166.3 505.0 L166.8 516.5 L160.0 522.0 L135.0 495.0Z"/>
<path d="M165.2 472.0 L169.0 471.5 L173.2 470.2 L177.0 471.0 L181.0 470.5 L183.9 476.4 L191.0 474.7 L197.2 478.2 L198.5 488.3 L197.0 498.4 L197.5 508.5 L198.3 520.0 L166.8 522.0 L166.3 505.0 L162.8 499.6 L165.0 492.4 L163.0 484.5 L163.4 478.2Z"/>
<path d="M218.4 434.2 L223.5 445.5 L228.5 453.0 L232.3 456.8 L228.5 461.9 L223.5 464.4 L217.2 465.6 L217.2 466.9 L198.8 466.9 L198.8 477.0 L197.2 478.2 L191.0 474.7 L183.9 476.4 L181.0 470.5 L180.3 458.7 L183.9 453.3 L189.5 446.8 L195.8 443.0 L202.1 437.9 L208.3 434.2Z"/>
<path d="M198.8 466.9 L217.2 466.9 L218.4 475.7 L220.4 488.3 L220.9 503.4 L222.2 515.0 L198.3 518.0 L197.5 508.5 L197.0 498.4 L198.5 488.3 L198.8 477.0Z"/>
<path d="M217.2 465.6 L220.9 466.9 L223.5 475.7 L226.0 480.8 L227.2 503.4 L227.2 512.0 L222.2 512.0 L220.9 503.4 L220.4 488.3 L218.4 475.7Z"/>
<path d="M227.2 503.4 L226.0 480.8 L223.5 475.7 L220.9 466.9 L223.5 464.4 L228.5 461.9 L232.3 456.8 L237.3 454.3 L242.3 458.1 L243.6 468.2 L239.8 478.2 L236.6 485.8 L236.1 510.0 L227.2 510.0Z"/>
<path d="M242.3 458.1 L244.9 448.0 L248.7 444.2 L256.2 443.0 L260.1 446.0 L270.2 448.0 L277.7 446.8 L287.8 448.0 L300.4 446.0 L309.2 445.0 L310.5 446.0 L313.0 455.6 L311.7 463.1 L306.7 470.7 L304.2 479.5 L299.1 490.8 L295.3 497.1 L287.8 498.4 L281.5 500.9 L276.4 508.5 L275.2 517.3 L275.0 530.0 L236.1 530.0 L236.6 485.8 L239.8 478.2 L243.6 468.2Z"/>
<path d="M310.5 446.0 L316.0 455.6 L318.0 467.0 L319.3 473.2 L311.7 474.5 L319.3 490.8 L320.5 495.9 L316.8 500.9 L314.2 508.5 L316.8 516.0 L320.5 526.1 L325.6 532.8 L326.8 535.3 L323.0 539.1 L313.0 537.4 L300.4 536.6 L282.7 538.0 L270.0 538.0 L275.2 517.3 L276.4 508.5 L281.5 500.9 L287.8 498.4 L295.3 497.1 L299.1 490.8 L304.2 479.5 L306.7 470.7 L311.7 463.1 L313.0 455.6Z"/>
<path d="M319.3 490.8 L325.6 492.1 L335.6 488.3 L345.7 483.3 L355.8 478.2 L362.1 469.4 L365.9 465.6 L374.7 466.9 L376.0 477.0 L379.7 480.5 L383.5 490.8 L391.1 500.0 L397.4 507.6 L402.4 516.4 L396.1 517.7 L386.0 513.9 L376.0 516.4 L365.9 521.5 L355.8 517.7 L347.0 515.2 L343.2 519.0 L339.4 527.3 L328.1 527.8 L326.8 535.3 L325.6 532.8 L320.5 526.1 L316.8 516.0 L314.2 508.5 L316.8 500.9 L320.5 495.9Z"/>
<path d="M379.7 479.5 L383.5 471.9 L391.1 473.2 L401.1 477.0 L410.1 476.9 L412.6 473.1 L416.4 470.6 L420.2 474.4 L425.2 473.1 L430.2 468.1 L432.7 465.6 L431.5 458.0 L437.8 455.0 L437.8 463.0 L437.8 468.1 L445.3 476.0 L444.1 488.2 L437.8 490.8 L442.8 498.3 L451.6 508.4 L450.4 515.9 L445.4 520.5 L437.8 521.0 L427.8 525.2 L422.7 529.0 L417.7 525.2 L411.2 520.2 L402.4 516.4 L397.4 507.6 L391.1 500.0 L383.5 490.8Z"/>
<path d="M460.5 437.9 L469.3 435.3 L475.6 436.6 L484.4 436.6 L491.9 444.2 L497.0 454.2 L495.7 460.5 L497.0 464.3 L500.8 464.3 L504.5 470.6 L510.8 478.2 L525.9 485.7 L537.3 488.7 L517.1 513.9 L507.1 515.4 L500.8 519.0 L493.3 522.2 L487.0 522.2 L481.9 526.4 L475.7 527.7 L468.1 523.9 L456.8 518.9 L450.5 516.4 L451.6 508.4 L442.8 498.3 L437.8 490.8 L444.1 488.2 L445.3 476.0 L450.4 463.0 L454.2 453.0Z"/>
<path d="M471.8 408.5 L480.0 405.0 L505.0 450.0 L499.5 451.7 L497.0 454.2 L491.9 444.2 L484.4 436.6 L475.6 436.6 L469.3 435.3 L460.5 437.9 L461.7 425.3 L464.2 415.0Z"/>
<path d="M500.8 464.3 L502.5 461.8 L504.5 461.0 L560.0 450.0 L565.0 470.0 L500.0 575.0 L494.5 570.5 L490.8 563.0 L490.8 532.7 L494.5 525.2 L500.8 519.0 L507.1 515.4 L517.1 513.9 L537.3 488.7 L525.9 485.7 L510.8 478.2 L504.5 470.6Z"/>
<path d="M497.0 454.2 L500.8 451.2 L504.5 456.0 L502.5 461.8 L497.0 464.3 L495.7 460.5Z"/>
<path d="M445.4 520.5 L450.5 516.4 L456.8 518.9 L468.1 523.9 L475.7 527.7 L481.9 526.4 L487.0 522.2 L493.3 522.2 L494.5 525.2 L490.8 532.7 L490.8 563.0 L494.5 570.5 L489.0 580.0 L479.4 591.9 L470.6 584.4 L449.2 566.8 L444.2 564.2 L444.2 556.7 L449.2 549.1 L450.5 541.6 L446.7 532.7Z"/>
<path d="M340.2 527.8 L343.2 519.0 L347.0 515.2 L355.8 517.7 L365.9 521.5 L376.0 516.4 L386.0 513.9 L396.1 517.7 L402.4 516.4 L411.2 520.2 L417.7 525.2 L422.7 529.0 L421.5 541.6 L416.4 550.4 L415.2 561.7 L415.2 590.7 L413.9 603.3 L417.7 614.6 L422.7 623.4 L408.9 625.9 L408.4 635.3 L409.6 646.7 L408.4 654.2 L415.9 658.0 L415.9 665.6 L413.4 664.3 L405.9 658.0 L398.3 653.0 L390.8 654.2 L385.7 650.5 L378.2 649.2 L366.8 647.9 L365.6 639.1 L363.0 630.3 L361.8 616.4 L349.2 615.2 L347.9 622.7 L335.3 622.7 L331.6 615.2 L327.8 606.4 L301.3 606.4 L295.0 606.4 L295.0 600.8 L300.4 600.8 L300.4 593.3 L304.2 597.0 L313.0 595.8 L316.8 594.5 L320.5 587.0 L324.3 576.9 L328.1 565.6 L334.4 553.0 L336.9 540.4Z"/>
<path d="M422.7 529.0 L427.8 525.2 L437.8 521.0 L445.4 520.5 L446.7 532.7 L450.5 541.6 L449.2 549.1 L444.2 556.7 L444.2 564.5 L421.5 566.0 L420.2 565.0 L415.2 561.7 L416.4 550.4 L421.5 541.6Z"/>
<path d="M415.2 566.8 L421.5 566.0 L422.7 570.5 L419.0 574.3 L415.2 573.0Z"/>
<path d="M415.2 574.3 L419.0 574.3 L420.7 580.6 L417.7 585.6 L415.2 583.1Z"/>
<path d="M421.5 566.0 L444.2 564.5 L449.2 566.8 L470.6 584.4 L479.4 591.9 L495.0 592.0 L495.0 644.8 L488.2 644.8 L477.9 646.4 L465.3 651.5 L452.7 651.5 L449.0 654.0 L447.7 645.2 L443.7 636.6 L438.6 635.3 L431.1 629.0 L422.7 623.4 L417.7 614.6 L413.9 603.3 L415.2 590.7 L417.7 585.6 L420.7 580.6 L419.0 574.3 L422.7 570.5Z"/>
<path d="M304.2 539.1 L313.0 537.4 L323.0 539.1 L326.8 535.3 L328.1 527.8 L340.2 527.8 L336.9 540.4 L334.4 553.0 L328.1 565.6 L324.3 576.9 L320.5 587.0 L316.8 594.5 L313.0 592.0 L309.2 593.3 L304.2 595.8 L300.4 593.3 L292.0 592.0 L294.1 587.0 L297.9 583.2 L295.3 576.9 L302.9 573.1 L310.5 576.9 L314.2 570.6 L313.0 558.0 L306.7 553.0 L310.5 546.7 L304.2 544.2Z"/>
<path d="M281.5 546.7 L292.8 546.7 L292.8 539.1 L304.2 539.1 L304.2 544.2 L310.5 546.7 L306.7 553.0 L313.0 558.0 L314.2 570.6 L310.5 576.9 L302.9 573.1 L295.3 576.9 L297.9 583.2 L294.1 587.0 L285.0 590.0 L270.0 565.0Z"/>
<path d="M278.0 539.1 L292.8 539.1 L292.8 546.7 L278.0 546.7Z"/>
<path d="M295.0 606.4 L327.8 606.4 L331.6 615.2 L335.3 622.7 L347.9 622.7 L349.2 615.2 L361.8 616.4 L363.0 630.3 L365.6 639.1 L366.8 647.9 L378.2 649.2 L378.2 664.3 L365.6 664.3 L365.6 690.8 L375.6 700.8 L358.0 701.5 L310.2 700.8 L306.4 695.8 L296.3 696.3 L290.0 696.0 L290.0 606.0Z"/>
<path d="M294.0 589.5 L300.4 593.3 L300.4 600.8 L294.0 600.8Z"/>
<path d="M365.6 664.3 L378.2 664.3 L378.2 649.2 L385.7 650.5 L390.8 654.2 L398.3 653.0 L405.9 658.0 L413.4 664.3 L415.9 665.6 L415.9 658.0 L408.4 654.2 L409.6 646.7 L408.4 635.3 L410.9 627.8 L421.0 625.3 L431.1 629.0 L438.6 635.3 L441.1 644.2 L438.6 655.5 L438.6 665.6 L436.1 670.6 L423.5 675.6 L418.5 679.4 L413.4 684.5 L405.9 689.5 L400.8 695.8 L394.5 700.8 L385.7 698.8 L375.6 700.8 L365.6 690.8Z"/>
<path d="M438.6 635.3 L443.7 636.6 L447.7 645.2 L449.0 654.0 L450.2 665.3 L454.0 674.2 L457.8 681.7 L456.5 690.5 L452.7 694.3 L449.0 686.8 L447.7 676.7 L441.4 671.6 L438.6 665.6 L438.6 655.5 L441.1 644.2Z"/>
<path d="M449.0 654.0 L452.7 651.5 L465.3 651.5 L477.9 646.4 L488.2 644.8 L500.0 644.0 L500.0 700.0 L460.0 770.0 L436.4 768.0 L433.9 758.5 L430.1 751.0 L427.6 740.9 L425.0 735.9 L431.3 730.8 L436.4 720.8 L438.9 708.2 L437.6 695.6 L435.1 689.3 L427.6 685.5 L418.5 679.4 L423.5 675.6 L436.1 670.6 L438.6 665.6 L441.4 671.6 L447.7 676.7 L449.0 686.8 L452.7 694.3 L456.5 690.5 L457.8 681.7 L454.0 674.2 L450.2 665.3Z"/>
<path d="M394.5 700.8 L400.8 695.8 L405.9 689.5 L413.4 684.5 L418.5 679.4 L427.6 685.5 L435.1 689.3 L437.6 695.6 L438.9 708.2 L436.4 720.8 L431.3 730.8 L425.0 735.9 L415.9 734.8 L410.9 735.3 L403.4 730.3 L402.1 722.7 L395.8 715.2 L389.5 705.1Z"/>
<path d="M290.0 696.0 L296.3 696.3 L306.4 695.8 L310.2 700.8 L358.0 701.5 L375.6 700.8 L385.7 698.8 L387.0 701.5 L378.2 702.5 L370.6 704.6 L357.5 705.1 L357.5 733.3 L350.5 734.1 L350.5 780.7 L344.2 784.5 L334.1 783.2 L327.8 780.7 L300.0 780.0Z"/>
<path d="M357.5 705.1 L370.6 704.6 L378.2 702.5 L387.0 701.5 L389.5 705.1 L395.8 715.2 L402.1 722.7 L403.4 730.3 L410.9 735.3 L404.6 740.4 L398.3 747.9 L393.3 755.5 L387.0 759.3 L376.9 759.3 L370.6 761.8 L365.6 768.1 L356.8 769.3 L353.0 763.0 L351.7 754.2 L350.5 754.2 L350.5 734.1 L357.5 733.3Z"/>
<path d="M327.8 780.7 L334.1 783.2 L344.2 784.5 L350.5 780.7 L350.5 754.2 L351.7 754.2 L353.0 763.0 L356.8 769.3 L365.6 768.1 L370.6 761.8 L376.9 759.3 L387.0 759.3 L393.3 755.5 L398.3 747.9 L404.6 740.4 L410.9 735.3 L415.9 734.8 L425.0 735.9 L427.6 740.9 L430.1 751.0 L433.9 758.5 L436.4 764.8 L445.0 768.0 L445.0 830.0 L320.0 830.0Z"/>
<path d="M425.5 767.5 L429.5 766.8 L431.5 770.0 L430.5 773.5 L426.5 773.3 L424.7 770.5Z"/>
<path d="M400.5 790.5 L405.0 787.5 L410.0 790.0 L409.5 794.0 L404.0 797.0 L400.2 794.5Z"/>
</g>
<path d="M547.2 656.5 L551.0 660.3 L554.8 670.4 L556.0 681.7 L552.2 688.0 L551.0 698.1 L547.2 713.2 L543.4 728.3 L538.4 743.4 L533.4 753.5 L525.8 757.3 L517.0 756.0 L511.9 749.7 L508.2 738.4 L509.4 728.3 L514.5 717.0 L517.0 706.9 L513.2 698.1 L517.0 688.0 L524.5 684.2 L533.4 679.2 L538.4 671.6 L543.4 662.8Z" fill="#80bcd3"/>
<path d="M614.2 694.2 L618.8 698.8 L622.2 708.1 L623.0 713.3 L617.9 718.4 L609.4 719.7 L602.9 717.5 L603.4 711.6 L606.8 704.7 L610.3 697.1Z" fill="#074b68"/>
<path d="M106.5 445.5 L110 443.8 L113 445.3 L116 443.6 L119 445 L122 443.5 L126.5 444" fill="none" stroke="#88c2d9" stroke-width="1.8"/>
<circle cx="56.2" cy="428.0" r="32.6" fill="none" stroke="#4f7d90" stroke-width="1"/>
<circle cx="519.3" cy="633.6" r="33.0" fill="none" stroke="#4f7d90" stroke-width="1"/>
<circle cx="622.6" cy="697.5" r="32.5" fill="none" stroke="#4f7d90" stroke-width="1"/>
<ellipse cx="39.8" cy="410.7" rx="2.6" ry="2.3" fill="#0e6686"/>
<ellipse cx="42.6" cy="414.6" rx="1.0" ry="0.9" fill="#0e6686"/>
<ellipse cx="53.4" cy="419.2" rx="1.4" ry="0.9" fill="#0e6686"/>
<ellipse cx="75.2" cy="428.9" rx="2.4" ry="2.6" fill="#0e6686"/>
<ellipse cx="62.8" cy="446.4" rx="2.0" ry="3.6" fill="#0e6686"/>
<ellipse cx="70.0" cy="444.7" rx="0.9" ry="1.3" fill="#0e6686"/>
<ellipse cx="50.9" cy="449.8" rx="1.8" ry="1.9" fill="#0e6686"/>
<ellipse cx="73.9" cy="416.6" rx="0.9" ry="1.8" fill="#8fb5c5"/>
<path d="M504.6 639 L507.3 638.6 L508.3 649 L504.8 648.6Z" fill="#0c5e7e"/>
<path d="M511.5 658 L515 659.5 L513 660.5Z" fill="#0c5e7e"/><path d="M523.5 656.5 L527.5 654 L527.5 659Z" fill="#0c5e7e"/>
<ellipse cx="258.8" cy="561.8" rx="1.3" ry="2.2" fill="#9fd3e8"/><ellipse cx="273.9" cy="526.8" rx="1" ry="1.6" fill="#26809c"/>
<rect x="616.8" y="384" width="10.2" height="94" fill="url(#lg)"/>
<g font-family="'Liberation Sans',sans-serif" font-weight="700" font-size="12.4" fill="#595959"><text transform="translate(632,388.2) scale(0.8,1)">99.4</text><text transform="translate(632,481.8) scale(0.8,1)">0.0</text></g>
<g font-family="'Liberation Sans',sans-serif" font-weight="700" font-size="12.4" text-anchor="middle">
<text transform="translate(164.0,316.0) scale(0.78,1)" fill="#ffffff">99.4</text>
<text transform="translate(234.0,337.0) scale(0.78,1)" fill="#ffffff">85.9</text>
<text transform="translate(283.5,294.0) scale(0.78,1)" fill="#ffffff">95.0</text>
<text transform="translate(336.0,345.0) scale(0.78,1)" fill="#ffffff">90.0</text>
<text transform="translate(414.0,347.0) scale(0.78,1)" fill="#ffffff">98.0</text>
<text transform="translate(147.0,396.0) scale(0.78,1)" fill="#ffffff">34.7</text>
<text transform="translate(192.0,419.0) scale(0.78,1)" fill="#ffffff">53.0</text>
<text transform="translate(278.0,418.0) scale(0.78,1)" fill="#1e2a33">15.0</text>
<text transform="translate(340.0,435.0) scale(0.78,1)" fill="#ffffff">36.0</text>
<text transform="translate(415.0,429.0) scale(0.78,1)" fill="#ffffff">35.0</text>
<text transform="translate(50.0,434.0) scale(0.78,1)" fill="#3c3c3c">80.2</text>
<text transform="translate(118.0,438.0) scale(0.78,1)" fill="#ffffff">95.4</text>
<text transform="translate(98.0,449.0) scale(0.78,1)" fill="#3c3c3c">55.0</text>
<text transform="translate(106.0,465.0) scale(0.78,1)" fill="#3c3c3c">23.0</text>
<text transform="translate(143.0,469.0) scale(0.78,1)" fill="#ffffff">29.0</text>
<text transform="translate(204.0,459.0) scale(0.78,1)" fill="#ffffff">36.6</text>
<text transform="translate(234.0,474.0) scale(0.78,1)" fill="#ffffff">46.0</text>
<text transform="translate(269.0,482.0) scale(0.78,1)" fill="#ffffff">80.9</text>
<text transform="translate(130.0,490.0) scale(0.78,1)" fill="#3c3c3c">48.6</text>
<text transform="translate(177.0,498.0) scale(0.78,1)" fill="#ffffff">91.1</text>
<text transform="translate(222.0,488.0) scale(0.78,1)" fill="#ffffff">96.0</text>
<text transform="translate(206.0,502.0) scale(0.78,1)" fill="#ffffff">67.7</text>
<text transform="translate(148.0,509.0) scale(0.78,1)" fill="#3c3c3c">35.0</text>
<text transform="translate(301.0,514.0) scale(0.78,1)" fill="#ffffff">65.0</text>
<text transform="translate(352.0,507.0) scale(0.78,1)" fill="#1e2a33">0.3</text>
<text transform="translate(416.0,499.0) scale(0.78,1)" fill="#1e2a33">15.0</text>
<text transform="translate(479.0,489.0) scale(0.78,1)" fill="#ffffff">33.0</text>
<text transform="translate(507.5,462.0) scale(0.78,1)" fill="#1e2a33">75.0</text>
<text transform="translate(514.0,529.0) scale(0.78,1)" fill="#ffffff">30.0</text>
<text transform="translate(291.0,548.0) scale(0.78,1)" fill="#ffffff">65.0</text>
<text transform="translate(294.0,567.0) scale(0.78,1)" fill="#ffffff">98.0</text>
<text transform="translate(308.0,588.0) scale(0.78,1)" fill="#ffffff">85.0</text>
<text transform="translate(373.0,585.0) scale(0.78,1)" fill="#ffffff">45.0</text>
<text transform="translate(432.0,557.0) scale(0.78,1)" fill="#ffffff">31.0</text>
<text transform="translate(468.0,555.0) scale(0.78,1)" fill="#ffffff">97.0</text>
<text transform="translate(418.0,577.0) scale(0.78,1)" fill="#ffffff">98.0</text>
<text transform="translate(418.0,592.0) scale(0.78,1)" fill="#ffffff">32.2</text>
<text transform="translate(448.0,612.0) scale(0.78,1)" fill="#ffffff">58.0</text>
<text transform="translate(519.0,650.0) scale(0.78,1)" fill="#1e2a33">85.0</text>
<text transform="translate(332.0,662.0) scale(0.78,1)" fill="#ffffff">57.9</text>
<text transform="translate(397.0,675.0) scale(0.78,1)" fill="#ffffff">91.2</text>
<text transform="translate(449.0,666.0) scale(0.78,1)" fill="#ffffff">70.2</text>
<text transform="translate(466.0,692.0) scale(0.78,1)" fill="#ffffff">60.0</text>
<text transform="translate(415.0,716.0) scale(0.78,1)" fill="#ffffff">40.1</text>
<text transform="translate(529.0,716.0) scale(0.78,1)" fill="#1e2a33">27.3</text>
<text transform="translate(614.0,715.0) scale(0.78,1)" fill="#ffffff">99.0</text>
<text transform="translate(330.0,738.0) scale(0.78,1)" fill="#ffffff">79.0</text>
<text transform="translate(374.0,739.0) scale(0.78,1)" fill="#ffffff">91.0</text>
<text transform="translate(427.0,770.0) scale(0.78,1)" fill="#ffffff">81.0</text>
<text transform="translate(371.0,790.0) scale(0.78,1)" fill="#ffffff">98.5</text>
<text transform="translate(410.0,793.0) scale(0.78,1)" fill="#ffffff">85.1</text>
</g>
</svg>
<div id="pink"></div>
<div id="y22">2022</div>
<div class="h2" style="left:13.5px;transform:scaleX(0.87)">Subregions</div>
<div class="h2" style="left:326.5px;transform:scaleX(0.864)">Regional Economic Communities (RECs)</div>
<svg width="675" height="338" viewBox="0 862 675 338" style="position:absolute;left:0;top:862px">
<g font-family="'Liberation Sans',sans-serif">
<rect x="32" y="1135.8" width="272" height="0.8" fill="#ffcbc4"/>
<rect x="32" y="1118.6" width="272" height="0.8" fill="#ffcbc4"/>
<rect x="32" y="1101.3" width="272" height="0.8" fill="#ffcbc4"/>
<rect x="32" y="1084.0" width="272" height="0.8" fill="#ffcbc4"/>
<rect x="32" y="1066.8" width="272" height="0.8" fill="#ffcbc4"/>
<rect x="32" y="1049.5" width="272" height="0.8" fill="#ffcbc4"/>
<rect x="32" y="1032.2" width="272" height="0.8" fill="#ffcbc4"/>
<rect x="32" y="1014.9" width="272" height="0.8" fill="#ffcbc4"/>
<rect x="32" y="997.7" width="272" height="0.8" fill="#ffcbc4"/>
<text x="29.8" y="1156.5" font-size="8.6" fill="#837979" text-anchor="end" letter-spacing="0.25">0.0</text>
<text x="29.8" y="1139.2" font-size="8.6" fill="#837979" text-anchor="end" letter-spacing="0.25">10.0</text>
<text x="29.8" y="1122.0" font-size="8.6" fill="#837979" text-anchor="end" letter-spacing="0.25">20.0</text>
<text x="29.8" y="1104.7" font-size="8.6" fill="#837979" text-anchor="end" letter-spacing="0.25">30.0</text>
<text x="29.8" y="1087.4" font-size="8.6" fill="#837979" text-anchor="end" letter-spacing="0.25">40.0</text>
<text x="29.8" y="1070.2" font-size="8.6" fill="#837979" text-anchor="end" letter-spacing="0.25">50.0</text>
<text x="29.8" y="1052.9" font-size="8.6" fill="#837979" text-anchor="end" letter-spacing="0.25">60.0</text>
<text x="29.8" y="1035.6" font-size="8.6" fill="#837979" text-anchor="end" letter-spacing="0.25">70.0</text>
<text x="29.8" y="1018.3" font-size="8.6" fill="#837979" text-anchor="end" letter-spacing="0.25">80.0</text>
<text x="29.8" y="1001.1" font-size="8.6" fill="#837979" text-anchor="end" letter-spacing="0.25">90.0</text>
<rect x="31.5" y="1153.1" width="273" height="1.8" fill="#dcd6d6"/>
<rect x="57.4" y="1072.5" width="20.8" height="81.0" fill="#075a82"/>
<text transform="translate(67.8,1066.2) scale(0.88,1)" font-size="8.3" font-weight="700" fill="#1f3558" text-anchor="middle">46.9</text>
<text x="68.3" y="1166" font-size="9" fill="#7f7676" text-anchor="middle">Eastern</text>
<text x="68.3" y="1177.8" font-size="9" fill="#7f7676" text-anchor="middle">Africa</text>
<rect x="125.2" y="1056.4" width="20.8" height="97.1" fill="#075a82"/>
<text transform="translate(135.6,1050.1) scale(0.88,1)" font-size="8.3" font-weight="700" fill="#1f3558" text-anchor="middle">56.2</text>
<text x="136.1" y="1166" font-size="9" fill="#7f7676" text-anchor="middle">Central</text>
<text x="136.1" y="1177.8" font-size="9" fill="#7f7676" text-anchor="middle">Africa</text>
<rect x="193.0" y="1033.1" width="20.8" height="120.4" fill="#075a82"/>
<text transform="translate(203.4,1026.8) scale(0.88,1)" font-size="8.3" font-weight="700" fill="#1f3558" text-anchor="middle">69.7</text>
<text x="203.9" y="1166" font-size="9" fill="#7f7676" text-anchor="middle">West</text>
<text x="203.9" y="1177.8" font-size="9" fill="#7f7676" text-anchor="middle">Africa</text>
<rect x="260.8" y="1009.0" width="20.8" height="144.5" fill="#075a82"/>
<text transform="translate(271.2,1002.7) scale(0.88,1)" font-size="8.3" font-weight="700" fill="#1f3558" text-anchor="middle">83.7</text>
<text x="271.7" y="1166" font-size="9" fill="#7f7676" text-anchor="middle">North</text>
<text x="271.7" y="1177.8" font-size="9" fill="#7f7676" text-anchor="middle">Africa</text>
<rect x="342" y="1130.6" width="320" height="0.8" fill="#ffcbc4"/>
<rect x="342" y="1114.6" width="320" height="0.8" fill="#ffcbc4"/>
<rect x="342" y="1098.6" width="320" height="0.8" fill="#ffcbc4"/>
<rect x="342" y="1082.6" width="320" height="0.8" fill="#ffcbc4"/>
<rect x="342" y="1066.6" width="320" height="0.8" fill="#ffcbc4"/>
<rect x="342" y="1050.6" width="320" height="0.8" fill="#ffcbc4"/>
<rect x="342" y="1034.6" width="320" height="0.8" fill="#ffcbc4"/>
<rect x="342" y="1018.6" width="320" height="0.8" fill="#ffcbc4"/>
<rect x="342" y="1002.6" width="320" height="0.8" fill="#ffcbc4"/>
<rect x="342" y="986.6" width="320" height="0.8" fill="#ffcbc4"/>
<text x="334" y="1150.1" font-size="8.6" fill="#7f7676" text-anchor="end">0.0</text>
<text x="334" y="1134.1" font-size="8.6" fill="#7f7676" text-anchor="end">10.0</text>
<text x="334" y="1118.1" font-size="8.6" fill="#7f7676" text-anchor="end">20.0</text>
<text x="334" y="1102.1" font-size="8.6" fill="#7f7676" text-anchor="end">30.0</text>
<text x="334" y="1086.1" font-size="8.6" fill="#7f7676" text-anchor="end">40.0</text>
<text x="334" y="1070.1" font-size="8.6" fill="#7f7676" text-anchor="end">50.0</text>
<text x="334" y="1054.1" font-size="8.6" fill="#7f7676" text-anchor="end">60.0</text>
<text x="334" y="1038.1" font-size="8.6" fill="#7f7676" text-anchor="end">70.0</text>
<text x="334" y="1022.1" font-size="8.6" fill="#7f7676" text-anchor="end">80.0</text>
<text x="334" y="1006.1" font-size="8.6" fill="#7f7676" text-anchor="end">90.0</text>
<text x="334" y="990.1" font-size="8.6" fill="#7f7676" text-anchor="end">100.0</text>
<rect x="342" y="1146.8" width="321" height="1.8" fill="#dcd6d6"/>
<rect x="352.1" y="1077.7" width="19.8" height="69.3" fill="#075a82"/>
<text transform="translate(362.0,1071.4) scale(0.88,1)" font-size="8.3" font-weight="700" fill="#1f3558" text-anchor="middle">43.3</text>
<text transform="translate(362.0,1161.8) scale(0.865,1)" font-size="9.2" fill="#837979" text-anchor="middle" letter-spacing="0.35">IGAD</text>
<rect x="392.2" y="1062.7" width="19.8" height="84.3" fill="#075a82"/>
<text transform="translate(402.1,1056.4) scale(0.88,1)" font-size="8.3" font-weight="700" fill="#1f3558" text-anchor="middle">52.7</text>
<text transform="translate(402.1,1161.8) scale(0.865,1)" font-size="9.2" fill="#837979" text-anchor="middle" letter-spacing="0.35">ECCAS</text>
<rect x="432.3" y="1057.9" width="19.8" height="89.1" fill="#075a82"/>
<text transform="translate(442.2,1051.6) scale(0.88,1)" font-size="8.3" font-weight="700" fill="#1f3558" text-anchor="middle">55.7</text>
<text transform="translate(442.2,1161.8) scale(0.865,1)" font-size="9.2" fill="#837979" text-anchor="middle" letter-spacing="0.35">EAC</text>
<rect x="472.4" y="1054.5" width="19.8" height="92.5" fill="#075a82"/>
<text transform="translate(482.3,1048.2) scale(0.88,1)" font-size="8.3" font-weight="700" fill="#1f3558" text-anchor="middle">57.8</text>
<text transform="translate(482.3,1161.8) scale(0.865,1)" font-size="9.2" fill="#837979" text-anchor="middle" letter-spacing="0.35">COMESA</text>
<rect x="512.5" y="1049.2" width="19.8" height="97.8" fill="#075a82"/>
<text transform="translate(522.4,1042.9) scale(0.88,1)" font-size="8.3" font-weight="700" fill="#1f3558" text-anchor="middle">61.1</text>
<text transform="translate(522.4,1161.8) scale(0.865,1)" font-size="9.2" fill="#837979" text-anchor="middle" letter-spacing="0.35">SADC</text>
<rect x="552.6" y="1035.5" width="19.8" height="111.5" fill="#075a82"/>
<text transform="translate(562.5,1029.2) scale(0.88,1)" font-size="8.3" font-weight="700" fill="#1f3558" text-anchor="middle">69.7</text>
<text transform="translate(562.5,1161.8) scale(0.865,1)" font-size="9.2" fill="#837979" text-anchor="middle" letter-spacing="0.35">ECOWAS</text>
<rect x="592.7" y="1031.3" width="19.8" height="115.7" fill="#075a82"/>
<text transform="translate(602.6,1025.0) scale(0.88,1)" font-size="8.3" font-weight="700" fill="#1f3558" text-anchor="middle">72.3</text>
<text transform="translate(602.6,1161.8) scale(0.865,1)" font-size="9.2" fill="#837979" text-anchor="middle" letter-spacing="0.35">CEN-SAD</text>
<rect x="632.8" y="1002.4" width="19.8" height="144.6" fill="#075a82"/>
<text transform="translate(642.7,996.1) scale(0.88,1)" font-size="8.3" font-weight="700" fill="#1f3558" text-anchor="middle">90.4</text>
<text transform="translate(642.7,1161.8) scale(0.865,1)" font-size="9.2" fill="#837979" text-anchor="middle" letter-spacing="0.35">AMU</text>
</g></svg>
</body></html>
